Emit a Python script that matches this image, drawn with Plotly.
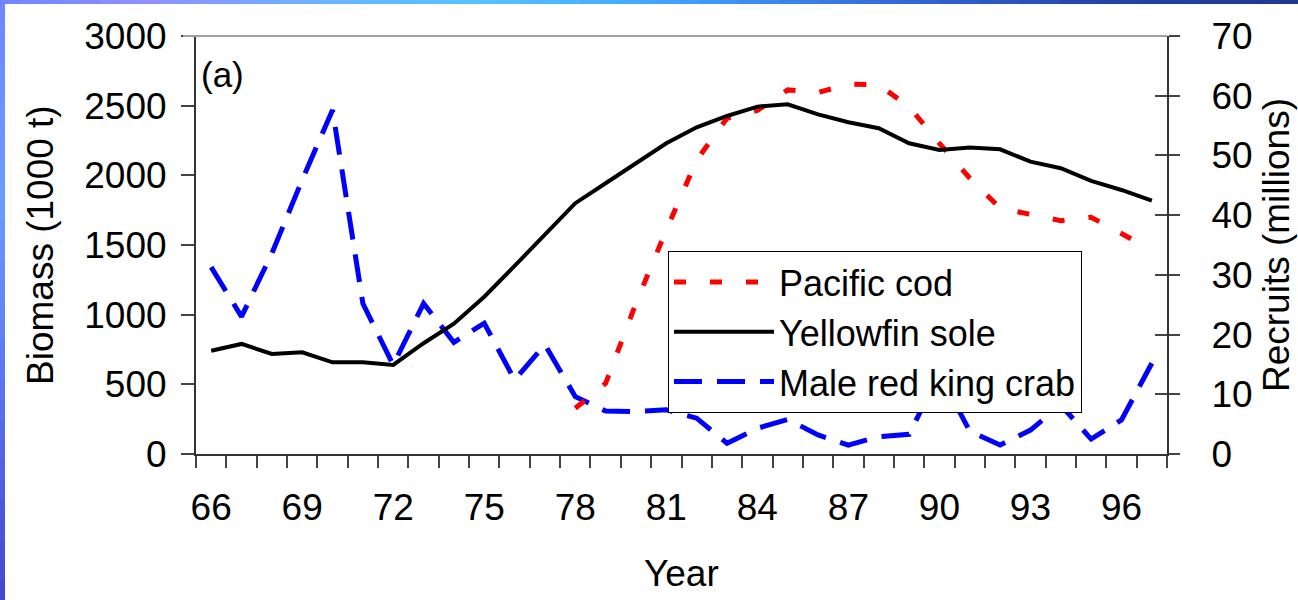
import plotly.graph_objects as go

# ---- data -------------------------------------------------------------
years = list(range(1966, 1998))
year_labels = ["66", "69", "72", "75", "78", "81", "84", "87", "90", "93", "96"]

# Biomass (1000 t), left axis
yellowfin_sole = [741, 790, 718, 730, 658, 658, 639, 795, 935, 1129, 1350, 1580,
                  1800, 1943, 2087, 2230, 2345, 2426, 2493, 2510, 2438, 2381,
                  2338, 2230, 2182, 2199, 2187, 2098, 2051, 1960, 1895, 1818]
pacific_cod = [None] * 12 + [328, 507, 1082, 1608, 2110, 2410, 2465, 2613, 2594,
                             2654, 2649, 2493, 2230, 1979, 1764, 1716, 1675, 1699,
                             1584, 1464]

# Recruits (millions), right axis
king_crab = [31.3, 23.0, 33.6, 45.9, 57.6, 25.2, 14.9, 25.2, 18.7, 21.9, 12.4,
             18.3, 9.6, 7.2, 7.1, 7.4, 6.0, 1.8, 4.3, 5.8, 3.2, 1.5, 2.9, 3.3,
             13.5, 3.8, 1.5, 4.0, 8.2, 2.5, 5.7, 15.2]

biomass_ticks = [0, 500, 1000, 1500, 2000, 2500, 3000]
recruit_ticks = [0, 10, 20, 30, 40, 50, 60, 70]

# ---- layout constants -------------------------------------------------
W, H = 1298, 600
ML, MR, MT, MB = 196, 131, 36, 146
PW, PH = W - ML - MR, H - MT - MB
FONT = "Liberation Sans, Arial, sans-serif"
x_range = [years[0] - 0.5, years[-1] + 0.5]
boundaries = [y - 0.5 for y in years] + [years[-1] + 0.5]
label_years = [1900 + int(t) for t in year_labels]


def px_x(p):
    return (p - ML) / PW


def px_y(p):
    return (H - MB - p) / PH


fig = go.Figure()

# biomass series on the labelled year axis (x2) and left axis (y)
fig.add_trace(go.Scatter(
    x=years, y=pacific_cod, name="Pacific cod", mode="lines",
    line=dict(color="#ff0000", width=5, dash="12px,24px"),
    connectgaps=False, xaxis="x2", yaxis="y"))
fig.add_trace(go.Scatter(
    x=years, y=yellowfin_sole, name="Yellowfin sole", mode="lines",
    line=dict(color="#000000", width=4), xaxis="x2", yaxis="y"))
# recruits on the boundary-tick year axis (x) and right axis (y2)
fig.add_trace(go.Scatter(
    x=years, y=king_crab, name="Male red king crab", mode="lines",
    line=dict(color="#0000ff", width=5, dash="28px,15px"), xaxis="x", yaxis="y2"))
# empty helper so the inner right-axis ticks (y3) get drawn
fig.add_trace(go.Scatter(x=[], y=[], xaxis="x", yaxis="y3", mode="lines",
                         showlegend=False, hoverinfo="skip"))

tick_font = dict(family=FONT, size=37, color="#000000")

fig.update_layout(
    width=W, height=H,
    margin=dict(l=ML, r=MR, t=MT, b=MB, pad=0),
    paper_bgcolor="#ffffff", plot_bgcolor="rgba(0,0,0,0)",
    font=dict(family=FONT, color="#000000"),
    showlegend=True,
    legend=dict(
        x=px_x(668), y=px_y(251), xanchor="left", yanchor="top",
        bgcolor="#ffffff", bordercolor="#000000", borderwidth=1,
        font=dict(family=FONT, size=36, color="#000000"),
        itemwidth=100, tracegroupgap=0,
    ),
    # category boundary ticks
    xaxis=dict(
        range=x_range, tickmode="array", tickvals=boundaries,
        showticklabels=False, ticks="outside", ticklen=12, tickwidth=1.5,
        tickcolor="#444444", showline=True, linecolor="#333333", linewidth=2,
        showgrid=False, zeroline=False, fixedrange=True,
    ),
    # year labels centred on categories
    xaxis2=dict(
        overlaying="x", side="bottom", anchor="y", range=x_range,
        tickmode="array", tickvals=label_years, ticktext=year_labels,
        ticks="", showline=False, showgrid=False, zeroline=False,
        tickfont=tick_font, ticklabelstandoff=28,
    ),
    yaxis=dict(
        range=[0, 3000], tickmode="array", tickvals=biomass_ticks,
        ticks="outside", ticklen=13, tickwidth=1.5, tickcolor="#444444",
        showline=True, linecolor="#333333", linewidth=2,
        showgrid=False, zeroline=False, tickfont=tick_font,
        ticklabelstandoff=7,
    ),
    yaxis2=dict(
        range=[0, 70], overlaying="y", side="right", anchor="x",
        tickmode="array", tickvals=recruit_ticks,
        ticks="outside", ticklen=11, tickwidth=1.5, tickcolor="#444444",
        showline=True, linecolor="#333333", linewidth=2,
        showgrid=False, zeroline=False, tickfont=tick_font,
        ticklabelstandoff=24,
    ),
    # inner half of the crossing ticks on the right axis
    yaxis3=dict(
        range=[0, 70], overlaying="y", side="right", anchor="x",
        tickmode="array", tickvals=recruit_ticks, showticklabels=False,
        ticks="inside", ticklen=12, tickwidth=1.5, tickcolor="#444444",
        showline=False, showgrid=False, zeroline=False,
    ),
)

# axis titles and panel tag
fig.add_annotation(text="Biomass (1000 t)", xref="paper", yref="paper",
                   x=px_x(40), y=0.5, textangle=-90, showarrow=False,
                   xanchor="center", yanchor="middle",
                   font=dict(family=FONT, size=37, color="#000000"))
fig.add_annotation(text="Recruits (millions)", xref="paper", yref="paper",
                   x=px_x(1276), y=0.5, textangle=-90, showarrow=False,
                   xanchor="center", yanchor="middle",
                   font=dict(family=FONT, size=37, color="#000000"))
fig.add_annotation(text="Year", xref="paper", yref="paper",
                   x=0.5, y=px_y(573), showarrow=False,
                   xanchor="center", yanchor="middle",
                   font=dict(family=FONT, size=37, color="#000000"))
fig.add_annotation(text="(a)", xref="paper", yref="paper",
                   x=px_x(199), y=px_y(74), showarrow=False,
                   xanchor="left", yanchor="middle",
                   font=dict(family=FONT, size=35, color="#000000"))

# grey top frame line
fig.add_shape(type="line", xref="paper", yref="paper", x0=px_x(183), x1=1,
              y0=1, y1=1, line=dict(color="#a0a0a0", width=2), layer="above")


# slide-style gradient edges
def hex_to_rgb(h):
    h = h.lstrip("#")
    return tuple(int(h[i:i + 2], 16) for i in (0, 2, 4))


def blend(stops, t):
    for (t0, c0), (t1, c1) in zip(stops, stops[1:]):
        if t0 <= t <= t1:
            f = 0 if t1 == t0 else (t - t0) / (t1 - t0)
            a, b = hex_to_rgb(c0), hex_to_rgb(c1)
            return "rgb(%d,%d,%d)" % tuple(round(a[i] + (b[i] - a[i]) * f) for i in range(3))
    return stops[-1][1]


top_stops = [(0, "#6f86ff"), (150, "#9090ff"), (320, "#6ab4ff"), (480, "#55c4ff"),
             (650, "#42a6ff"), (900, "#3468d8"), (1100, "#2444a8"), (1298, "#1c3a8c")]
left_stops = [(0, "#6f86ff"), (200, "#6a9cff"), (400, "#5a70f0"), (600, "#4444d0")]

step = 20
for x0 in range(0, W, step):
    fig.add_shape(type="rect", xref="paper", yref="paper",
                  x0=px_x(x0), x1=px_x(min(x0 + step + 1, W)),
                  y0=px_y(4), y1=px_y(0), line=dict(width=0),
                  fillcolor=blend(top_stops, x0 + step / 2), layer="above")
for y0 in range(0, H, step):
    fig.add_shape(type="rect", xref="paper", yref="paper",
                  x0=px_x(0), x1=px_x(5),
                  y0=px_y(min(y0 + step + 1, H)), y1=px_y(y0), line=dict(width=0),
                  fillcolor=blend(left_stops, y0 + step / 2), layer="above")

fig.write_html("out.html")
